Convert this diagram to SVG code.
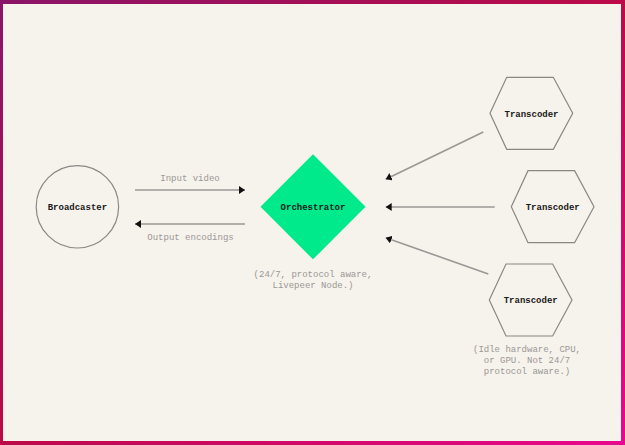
<svg xmlns="http://www.w3.org/2000/svg" width="625" height="445" viewBox="0 0 625 445">
  <defs>
    <linearGradient id="border" x1="0" y1="0" x2="1" y2="1">
      <stop offset="0" stop-color="#8a1468"/>
      <stop offset="0.5" stop-color="#bc0a48"/>
      <stop offset="1" stop-color="#e8088e"/>
    </linearGradient>
    <marker id="arrow" viewBox="0 0 6 8" refX="6" refY="4" markerWidth="6" markerHeight="8" markerUnits="userSpaceOnUse" orient="auto">
      <path d="M0,0 L6,4 L0,8 Z" fill="#111"/>
    </marker>
    <style>
      .node { fill: none; stroke: #8a8785; stroke-width: 1.2; }
      .name { font-family: "Liberation Mono", "DejaVu Sans Mono", monospace; font-size: 9px; font-weight: bold; fill: #1a1a1a; text-anchor: middle; }
      .label { font-family: "Liberation Mono", "DejaVu Sans Mono", monospace; font-size: 9px; fill: #9a9896; text-anchor: middle; }
      .edge { stroke: #9a9896; stroke-width: 1.6; fill: none; marker-end: url(#arrow); }
    </style>
  </defs>
  <rect x="0" y="0" width="625" height="445" fill="url(#border)"/>
  <rect x="3" y="4" width="618" height="437" fill="#f6f2ec"/>

  <g id="broadcaster">
    <circle class="node" cx="77.4" cy="206.8" r="41.2"/>
    <text class="name" x="77.4" y="210">Broadcaster</text>
  </g>

  <g id="orchestrator">
    <polygon points="313,154.3 365.5,206.8 313,259.3 260.5,206.8" fill="#00e98a"/>
    <text class="name" x="313" y="210">Orchestrator</text>
    <text class="label" x="313" y="277">(24/7, protocol aware,</text>
    <text class="label" x="313" y="288">Livepeer Node.)</text>
  </g>

  <g id="transcoder1">
    <polygon class="node" points="490,113.3 506.7,77.3 553.3,77.3 572.7,113.3 553.3,149.3 506.7,149.3"/>
    <text class="name" x="531.5" y="116.5">Transcoder</text>
  </g>

  <g id="transcoder2">
    <polygon class="node" points="511.3,206.7 528,170.7 574.6,170.7 594,206.7 574.6,242.7 528,242.7"/>
    <text class="name" x="552.7" y="210">Transcoder</text>
  </g>

  <g id="transcoder3">
    <polygon class="node" points="489.3,300 506,264 552.6,264 572,300 552.6,336 506,336"/>
    <text class="name" x="530.7" y="303.2">Transcoder</text>
    <text class="label" x="527" y="352">(Idle hardware, CPU,</text>
    <text class="label" x="527" y="363">or GPU. Not 24/7</text>
    <text class="label" x="527" y="374">protocol aware.)</text>
  </g>

  <g id="connectors">
    <line class="edge" x1="135" y1="190" x2="245" y2="190"/>
    <text class="label" x="190" y="181">Input video</text>
    <line class="edge" x1="245" y1="224" x2="135" y2="224"/>
    <text class="label" x="190.5" y="240">Output encodings</text>
    <line class="edge" x1="483.3" y1="132" x2="385.7" y2="179.3"/>
    <line class="edge" x1="494.7" y1="207" x2="385.7" y2="207"/>
    <line class="edge" x1="488.3" y1="274" x2="385.7" y2="237.7"/>
  </g>
</svg>
